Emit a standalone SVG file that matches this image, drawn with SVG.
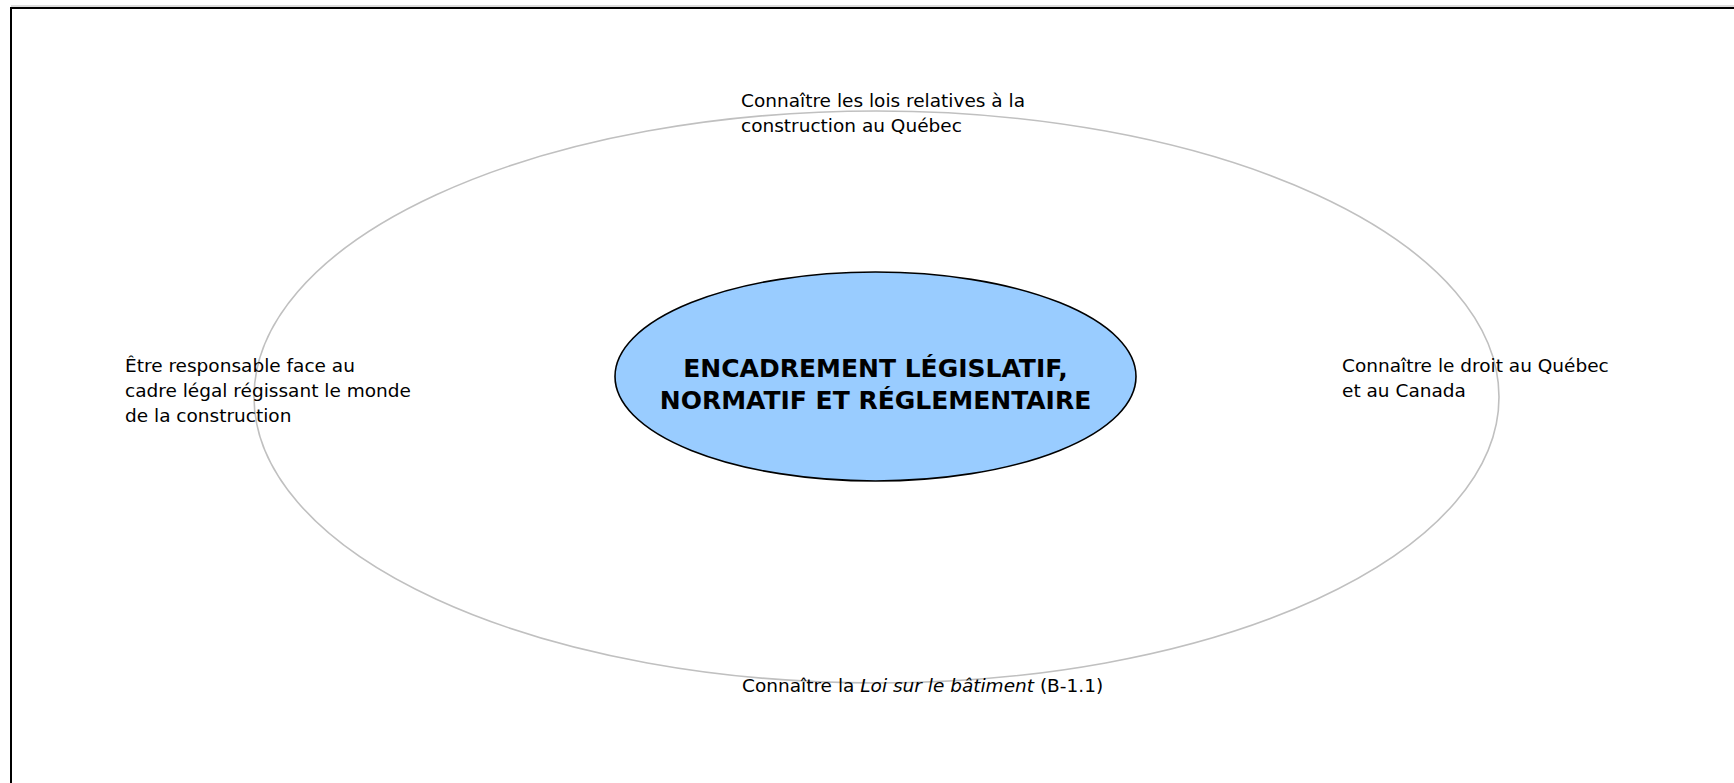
<svg xmlns="http://www.w3.org/2000/svg" width="1734" height="783" viewBox="0 0 1734 783">
<style>
.lbl{font-family:"DejaVu Sans","Liberation Sans",sans-serif;font-size:18.5px;fill:#000}
.ttl{font-family:"DejaVu Sans","Liberation Sans",sans-serif;font-size:25px;font-weight:bold;fill:#000;text-anchor:middle}
.ring{fill:none;stroke:#c0c0c0;stroke-width:1.6}
.core{fill:#99ccff;stroke:#000;stroke-width:1.6}
</style>
<rect width="1734" height="783" fill="#fff"/>
<g id="frame">
<line x1="11" y1="6" x2="1734" y2="6" stroke="#bbb" stroke-width="1"/>
<path d="M11,783 L11,8 L1734,8" fill="none" stroke="#000" stroke-width="2"/>
</g>
<g id="outer-ring">
<ellipse class="ring" cx="876.5" cy="397" rx="622.5" ry="286"/>
</g>
<g id="center-node">
<ellipse class="core" cx="875.5" cy="376.5" rx="260.5" ry="104.5"/>
<text class="ttl" x="875.5" y="377">ENCADREMENT LÉGISLATIF,</text>
<text class="ttl" x="875.5" y="409">NORMATIF ET RÉGLEMENTAIRE</text>
</g>
<g id="label-top">
<text class="lbl" x="741" y="107">Connaître les lois relatives à la</text>
<text class="lbl" x="741" y="132">construction au Québec</text>
</g>
<g id="label-left">
<text class="lbl" x="125" y="372">Être responsable face au</text>
<text class="lbl" x="125" y="397">cadre légal régissant le monde</text>
<text class="lbl" x="125" y="422">de la construction</text>
</g>
<g id="label-right">
<text class="lbl" x="1342" y="372">Connaître le droit au Québec</text>
<text class="lbl" x="1342" y="397">et au Canada</text>
</g>
<g id="label-bottom">
<text class="lbl" x="742" y="692">Connaître la <tspan font-style="italic">Loi sur le bâtiment</tspan> (B-1.1)</text>
</g>
</svg>
